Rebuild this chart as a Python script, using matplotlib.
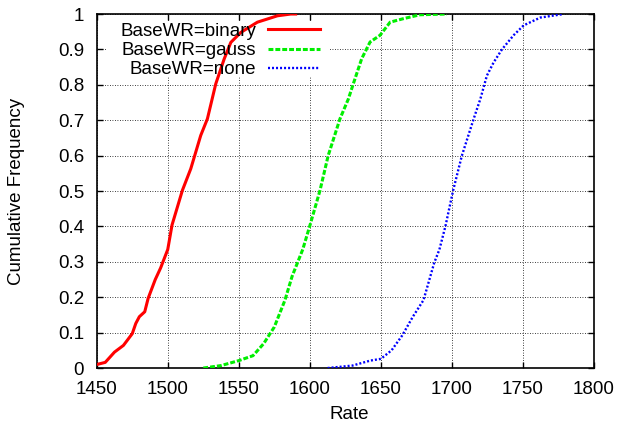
import matplotlib
matplotlib.use("Agg")
import matplotlib.pyplot as plt
from matplotlib.patches import Rectangle

plt.rcParams['font.family'] = ['Liberation Sans', 'DejaVu Sans']

# cumulative frequency curves per BaseWR setting
binary_rate = [1450, 1456, 1462.5, 1468.8, 1475, 1477.5, 1480, 1483.8, 1486.2, 1491.2, 1495, 1500,
               1503, 1510.3, 1516.2, 1523.2, 1527.9, 1533.8, 1539.7, 1544.4, 1551.4, 1563.1, 1577.2, 1586.6, 1590]
binary_freq = [0.01, 0.016, 0.045, 0.064, 0.097, 0.126, 0.145, 0.159, 0.197, 0.25, 0.283, 0.335,
               0.404, 0.502, 0.563, 0.657, 0.704, 0.803, 0.873, 0.92, 0.948, 0.977, 0.995, 1.0, 1.0]

gauss_rate = [1525, 1537.5, 1550, 1560, 1567.5, 1575, 1582.5, 1587.5, 1595, 1600, 1607.1, 1612.9,
              1621.2, 1627.1, 1630.6, 1636.5, 1642.4, 1649.4, 1656.5, 1665.9, 1677.6, 1696.5]
gauss_freq = [0.0, 0.007, 0.021, 0.035, 0.069, 0.116, 0.192, 0.259, 0.335, 0.402, 0.501, 0.6,
              0.704, 0.76, 0.803, 0.874, 0.921, 0.94, 0.977, 0.987, 0.998, 1.0]

none_rate = [1612.5, 1630, 1642.5, 1650, 1657.5, 1665, 1672.5, 1680, 1687.5, 1691.2, 1695.5, 1700.8,
             1707, 1715.3, 1720, 1724.6, 1729.3, 1735.2, 1743.4, 1750.5, 1762.2, 1778.6]
none_freq = [0.0, 0.007, 0.021, 0.026, 0.05, 0.092, 0.145, 0.192, 0.297, 0.335, 0.402, 0.501,
             0.6, 0.704, 0.76, 0.826, 0.863, 0.9, 0.94, 0.968, 0.99, 1.0]

x_ticks = [1450, 1500, 1550, 1600, 1650, 1700, 1750, 1800]
y_ticks = [0, 0.1, 0.2, 0.3, 0.4, 0.5, 0.6, 0.7, 0.8, 0.9, 1]
y_tick_labels = ["0", "0.1", "0.2", "0.3", "0.4", "0.5", "0.6", "0.7", "0.8", "0.9", "1"]

fs = 13.5

fig = plt.figure(figsize=(6.18, 4.25), dpi=100)
ax = fig.add_axes([0.1565, 0.134, 0.8047, 0.833])

ax.plot(binary_rate, binary_freq, color="#ff0000", lw=2.2, label="BaseWR=binary", zorder=3)
ax.plot(gauss_rate, gauss_freq, color="#00ee00", lw=2.2, dashes=(1.6, 0.65), label="BaseWR=gauss", zorder=3)
ax.plot(none_rate, none_freq, color="#0000ff", lw=1.7, dashes=(0.85, 0.85), label="BaseWR=none", zorder=3)

ax.set_xlim(1450, 1800)
ax.set_ylim(0, 1)
ax.set_xticks(x_ticks)
ax.set_yticks(y_ticks)
ax.set_yticklabels(y_tick_labels)
ax.tick_params(direction="in", top=True, right=True, labelsize=fs, length=4.5, width=1.0, pad=9)
ax.set_axisbelow(True)
ax.grid(True, color="black", linestyle=(0, (1, 2)), lw=0.6)
for s in ax.spines.values():
    s.set_linewidth(1.2)

# blank out the grid behind the key
ax.add_patch(Rectangle((0.02, 0.822), 0.449, 0.158, transform=ax.transAxes,
                       facecolor="white", edgecolor="none", zorder=1))

ax.set_xlabel("Rate", fontsize=fs)
ax.xaxis.set_label_coords(0.507, -0.108)
ax.set_ylabel("Cumulative Frequency", fontsize=fs)
ax.yaxis.set_label_coords(-0.144, 0.5)

leg = ax.legend(loc="upper right", bbox_to_anchor=(0.449, 0.975), markerfirst=False, frameon=False,
                fontsize=fs, handlelength=2.77, labelspacing=0.11, borderpad=0, borderaxespad=0,
                handletextpad=0.64)

fig.savefig("out.png", dpi=100)
